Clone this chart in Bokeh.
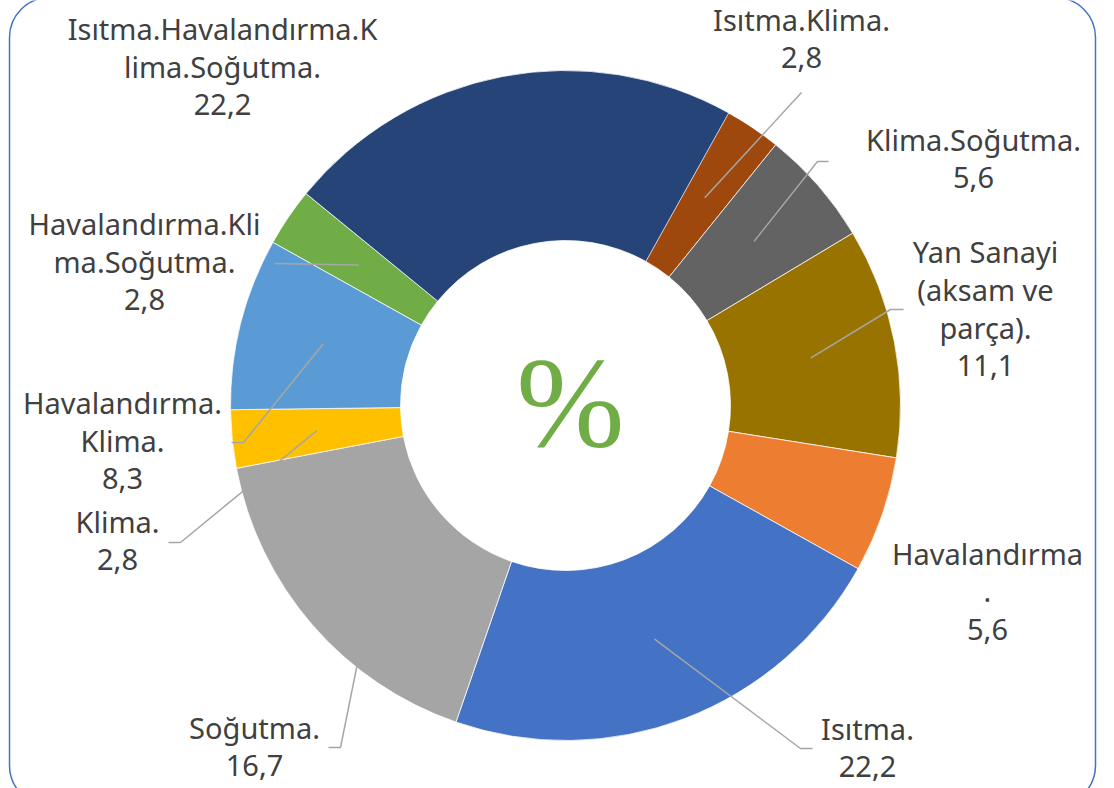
import numpy as np
from bokeh.plotting import figure
from bokeh.models import Range1d, BoxAnnotation
from bokeh.core.properties import value
from bokeh.embed import file_html
from bokeh.resources import INLINE

# ---------------- data ----------------
categories = [
    "Isıtma.Klima.",
    "Klima.Soğutma.",
    "Yan Sanayi (aksam ve parça).",
    "Havalandırma.",
    "Isıtma.",
    "Soğutma.",
    "Klima.",
    "Havalandırma.Klima.",
    "Havalandırma.Klima.Soğutma.",
    "Isıtma.Havalandırma.Klima.Soğutma.",
]
values = [2.8, 5.6, 11.1, 5.6, 22.2, 16.7, 2.8, 8.3, 2.8, 22.2]
colors = ["#9E480E", "#636363", "#997300", "#ED7D31", "#4472C4",
          "#A5A5A5", "#FFC000", "#5B9BD5", "#70AD47", "#264478"]
# wrapped label lines (as in the original data labels)
label_lines = [
    ["Isıtma.Klima."],
    ["Klima.Soğutma."],
    ["Yan Sanayi", "(aksam ve", "parça)."],
    ["Havalandırma", "."],
    ["Isıtma."],
    ["Soğutma."],
    ["Klima."],
    ["Havalandırma.", "Klima."],
    ["Havalandırma.Kli", "ma.Soğutma."],
    ["Isıtma.Havalandırma.K", "lima.Soğutma."],
]

# ---------------- layout ----------------
W, H = 1114, 788
CX, CY = 565, 405          # donut centre in page pixels
R_OUT, R_IN = 335, 165
START_DEG = 28.8           # clock angle (from 12 o'clock) where first slice starts
LINE_H = 38
TXT_SHIFT = 14             # compensation of text baseline placement

def X(sx):
    return sx - CX

def Y(sy):
    return CY - sy

# label anchor: centre x, first baseline y (page pixels)
label_pos = [(801, 33), (973, 153), (985, 265), (987, 567), (867, 742),
             (254, 741), (117, 535), (122, 416), (144, 237), (222, 42)]
# leader line outer points (page pixels), None = no leader
leader_outer = [
    [(801, 92)],
    [(828, 161), (817, 161)],
    [(903, 309), (890, 309)],
    None,
    [(812, 748), (800, 748)],
    [(328, 747), (340, 747)],
    [(168, 542), (180, 542)],
    [(231, 442), (243, 442)],
    [(274, 263)],
    None,
]

vals = np.array(values)
total = 100.0
cum = np.concatenate([[0], np.cumsum(vals)])
clock_start = START_DEG + cum[:-1] / total * 360.0
clock_end = START_DEG + cum[1:] / total * 360.0
start_rad = np.radians(90.0 - clock_start)
end_rad = np.radians(90.0 - clock_end)
mid_clock = np.radians((clock_start + clock_end) / 2.0)

p = figure(width=W, height=H,
           x_range=Range1d(X(0), X(W)), y_range=Range1d(Y(H), Y(0)),
           output_backend="svg", toolbar_location=None, min_border=0,
           x_axis_location=None, y_axis_location=None)
p.grid.visible = False
p.outline_line_color = None
p.background_fill_color = "white"
p.border_fill_color = "white"

# border
p.add_layout(BoxAnnotation(left=X(9), right=X(1095), top=Y(-3), bottom=Y(805),
                           fill_alpha=0, line_color="#4472C4", line_alpha=1.0,
                           line_width=1.5, border_radius=40))

p.annular_wedge(x=0, y=0, inner_radius=R_IN, outer_radius=R_OUT,
                start_angle=list(start_rad), end_angle=list(end_rad),
                direction="clock", fill_color=colors,
                line_color="white", line_width=0.75)

# leader lines
xs, ys = [], []
rmid = (R_IN + R_OUT) / 2.0
for i, pts in enumerate(leader_outer):
    if pts is None:
        continue
    lx = [X(a) for a, b in pts] + [rmid * np.sin(mid_clock[i])]
    ly = [Y(b) for a, b in pts] + [rmid * np.cos(mid_clock[i])]
    xs.append(lx)
    ys.append(ly)
p.multi_line(xs, ys, line_color="#A6A6A6", line_width=1.5)

# labels
tx, ty, tt = [], [], []
for i, lines in enumerate(label_lines):
    lines = lines + [f"{values[i]:.1f}".replace(".", ",")]
    cx, by = label_pos[i]
    for k, s in enumerate(lines):
        tx.append(X(cx))
        ty.append(Y(by + k * LINE_H - TXT_SHIFT))
        tt.append(s)
p.text(x=tx, y=ty, text=tt, text_font=value("Noto Sans"), text_font_size="29px",
       text_color="#404040", text_align="center", text_baseline="alphabetic")

p.text(x=[X(570)], y=[Y(401)], text=["%"], text_font=value("Liberation Serif"),
       text_font_size="130px", text_color="#70AD47", text_align="center",
       text_baseline="alphabetic")

open("out.html", "w").write(file_html(p, INLINE))
